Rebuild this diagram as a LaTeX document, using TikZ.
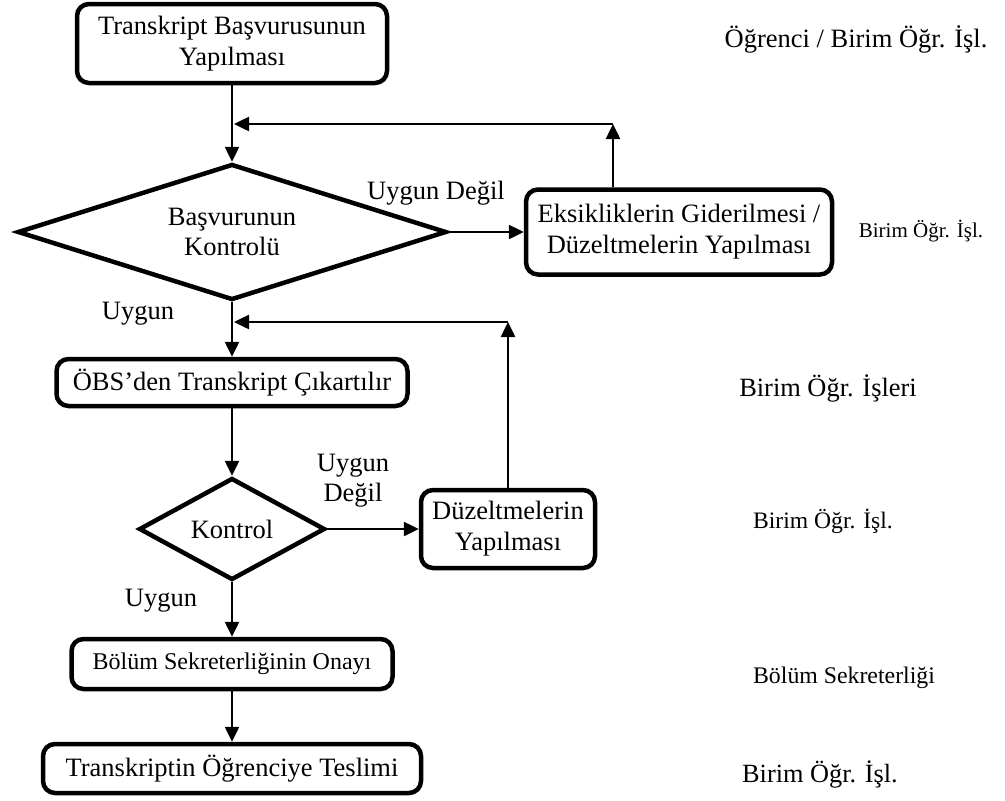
\documentclass[tikz,border=0pt]{standalone}
\usepackage{fontspec}
\setmainfont{Liberation Serif}
\usepackage{tikz}
\usetikzlibrary{positioning, arrows.meta, shapes.geometric}
\tikzset{>={Triangle[length=15pt,width=14pt]}}
\tikzset{
    stepbox/.style={draw, rounded corners=12pt, line width=4.5pt, inner sep=2pt, align=center, font=\fontsize{26.5}{31}\selectfont},
    checkbox/.style={draw, diamond, line width=4.5pt, inner sep=0pt, align=center, font=\fontsize{26.5}{30}\selectfont},
    flow/.style={->, line width=2.5pt},
    note/.style={align=center, inner sep=0pt, font=\fontsize{26.5}{30}\selectfont},
    lane/.style={inner sep=0pt, font=\fontsize{#1}{#1}\selectfont}
}

\begin{document}
\begin{tikzpicture}[x=1pt, y=-1pt, node distance=10pt, on grid]
    \useasboundingbox (0,0) rectangle (1005,801);

    \node[stepbox, minimum width=310pt, minimum height=79pt] (apply) at (232,43.5) {Transkript Başvurusunun\\Yapılması};
    \node[checkbox, aspect=3.15, minimum width=429pt, minimum height=136pt, below=188.5pt of apply] (check1) {Başvurunun\\Kontrolü};
    \node[stepbox, minimum width=306pt, minimum height=85pt, right=447pt of check1] (fix1) {Eksikliklerin Giderilmesi /\\Düzeltmelerin Yapılması};
    \node[stepbox, minimum width=351pt, minimum height=47pt, below=150.5pt of check1] (extract) {ÖBS’den Transkript Çıkartılır};
    \node[checkbox, aspect=1.82, minimum width=186pt, minimum height=102pt, below=146.5pt of extract] (check2) {Kontrol};
    \node[stepbox, minimum width=174pt, minimum height=78pt, right=276pt of check2] (fix2) {Düzeltmelerin\\Yapılması};
    \node[stepbox, minimum width=321pt, minimum height=50pt, below=135pt of check2, font=\fontsize{24}{28}\selectfont] (approve) {Bölüm Sekreterliğinin Onayı};
    \node[stepbox, minimum width=378pt, minimum height=49pt, below=104.5pt of approve] (deliver) {Transkriptin Öğrenciye Teslimi};

    % who does it
    \node[lane=26.5] (laneapply) at (856,39) {Öğrenci / Birim Öğr. İşl.};
    \node[lane=21] (lanefix1) at (921,231) {Birim Öğr. İşl.};
    \node[lane=26.4] (laneextract) at (828,388) {Birim Öğr. İşleri};
    \node[lane=23.6] (lanefix2) at (823,521) {Birim Öğr. İşl.};
    \node[lane=23.8] (laneapprove) at (844,678) {Bölüm Sekreterliği};
    \node[lane=26.3] (lanedeliver) at (820,774) {Birim Öğr. İşl.};

    % answers
    \node[note] (no1) at (436,193) {Uygun Değil};
    \node[note] (yes1) at (138,314) {Uygun};
    \node[note] (no2) at (353,481) {Uygun\\Değil};
    \node[note] (yes2) at (161,601) {Uygun};

    \draw[flow] (apply) -- (check1);
    \draw[flow] (check1) -- (extract);
    \draw[flow] (extract) -- (check2);
    \draw[flow] (check2) -- (approve);
    \draw[flow] (approve) -- (deliver);
    \draw[flow] (check1) -- (fix1);
    \draw[flow] (check2) -- (fix2);

    % back to the checks
    \coordinate (ret1) at (613,124);
    \coordinate (ret2) at (fix2.north |- 0,322);
    \draw[flow] (ret1 |- fix1.north) -- (ret1);
    \draw[flow, shorten >=2pt] (ret1) -- (ret1 -| apply.south);
    \draw[flow] (fix2.north) -- (ret2);
    \draw[flow, shorten >=2pt] (ret2) -- (ret2 -| extract.north);
\end{tikzpicture}
\end{document}
